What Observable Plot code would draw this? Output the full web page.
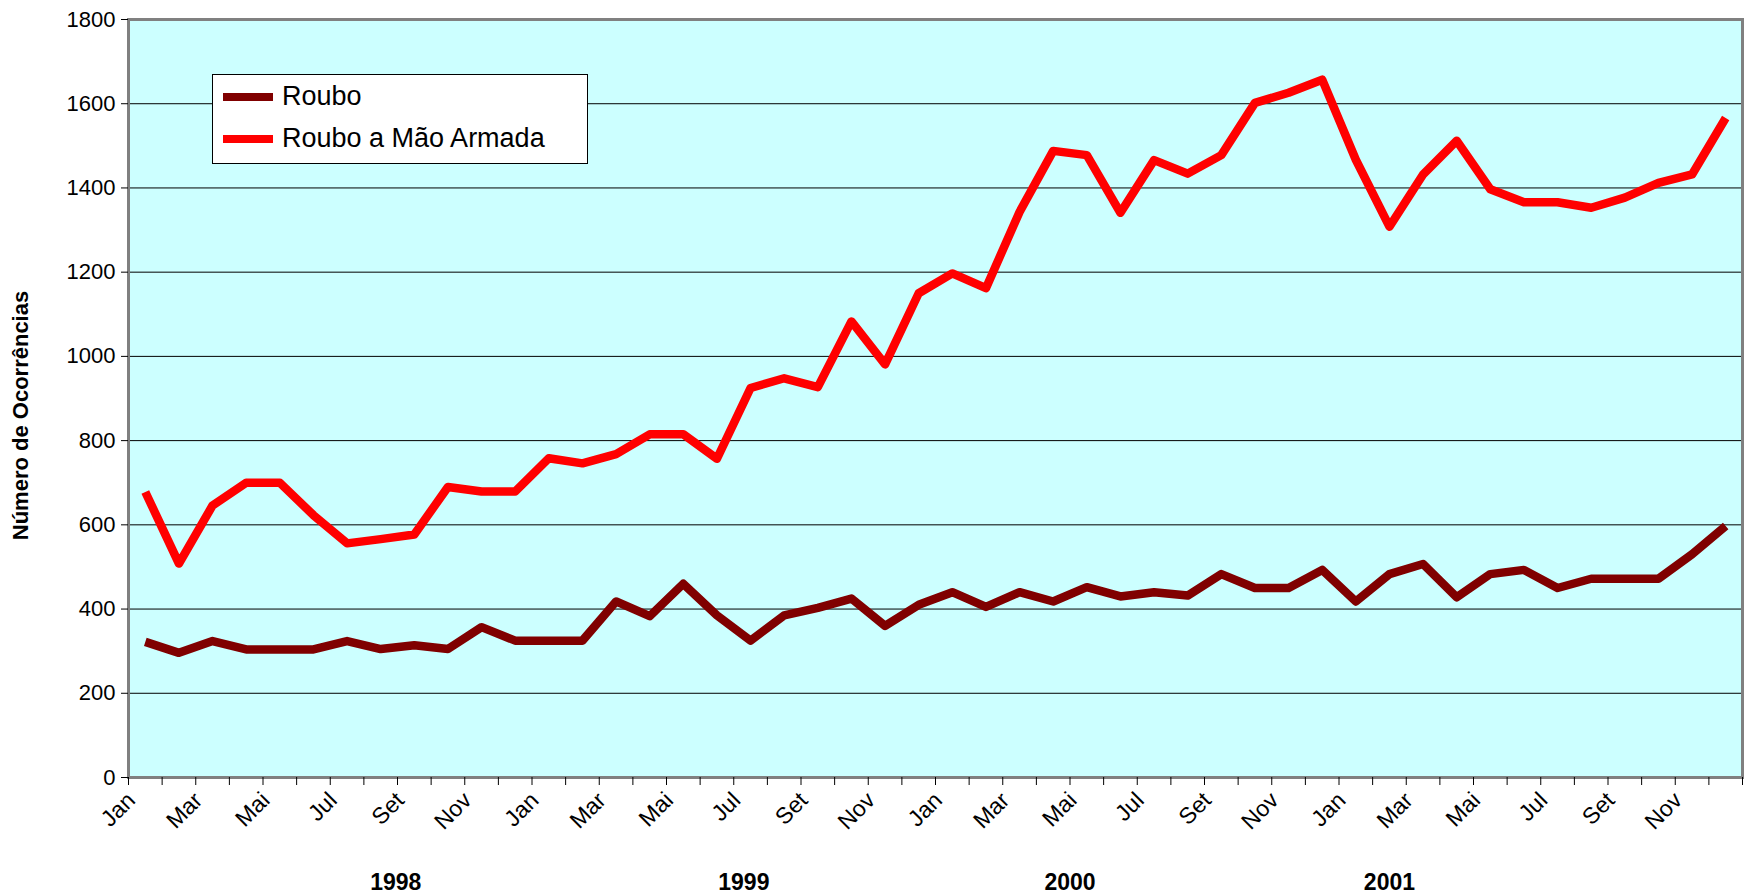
<!DOCTYPE html>
<html>
<head>
<meta charset="utf-8">
<script src="https://cdn.jsdelivr.net/npm/d3@7"></script>
<script src="https://cdn.jsdelivr.net/npm/@observablehq/plot@0.6"></script>
<style>
  html, body { margin: 0; padding: 0; background: #fff; }
  #wrap { position: relative; width: 1748px; height: 893px; font-family: "Liberation Sans", Arial, sans-serif; }
  #legend { position: absolute; left: 212px; top: 74px; width: 374px; height: 88px; border: 1px solid #000; background: #fff; box-sizing: content-box; }
  #legend .item { position: absolute; left: 10px; display: flex; align-items: center; font-size: 27px; color: #000; }
  #legend .sw { display: inline-block; width: 50px; height: 8px; margin-right: 9px; }
  svg text { font-family: "Liberation Sans", Arial, sans-serif; }
</style>
</head>
<body>
<div id="wrap"></div>
<script>
const monthNames = ["Jan","Fev","Mar","Abr","Mai","Jun","Jul","Ago","Set","Out","Nov","Dez"];
const years = [1998, 1999, 2000, 2001];
const seriesNames = ["Roubo", "Roubo a Mão Armada"];
const seriesColors = ["#800000", "#FF0000"];

const roubo = [
  322, 296, 324, 304, 304, 304, 324, 305, 314, 305, 357, 325,
  325, 325, 418, 383, 460, 385, 325, 385, 403, 425, 360, 410,
  440, 405, 440, 418, 452, 430, 440, 432, 483, 450, 450, 493,
  418, 483, 507, 428, 483, 493, 450, 472, 472, 472, 530, 597
];
const armada = [
  678, 508, 646, 700, 700, 623, 556, 566, 577, 690, 679, 679,
  758, 746, 768, 815, 815, 757, 925, 948, 927, 1083, 981, 1150,
  1197, 1162, 1343, 1488, 1478, 1341, 1466, 1434, 1478, 1602, 1626, 1657,
  1467, 1308, 1432, 1512, 1397, 1366, 1366, 1353, 1377, 1412, 1432, 1566
];
// year captions, placed in month-index units
const yearLabelAt = [7.45, 17.8, 27.5, 37.0];

const yTicks = d3.range(0, 1801, 200);
const gridTicks = d3.range(200, 1800, 200);

const data = [];
roubo.forEach((v, i) => data.push({i, value: v, serie: seriesNames[0]}));
armada.forEach((v, i) => data.push({i, value: v, serie: seriesNames[1]}));
const yearData = years.map((y, k) => ({year: String(y), at: yearLabelAt[k]}));
const n = roubo.length;

const chart = Plot.plot({
  width: 1748,
  height: 893,
  marginLeft: 128,
  marginRight: 6,
  marginTop: 19,
  marginBottom: 116,
  style: {fontFamily: "'Liberation Sans', Arial, sans-serif", fontSize: "22px", background: "#fff", overflow: "visible"},
  x: {type: "linear", domain: [-0.5, n - 0.5]},
  y: {domain: [0, 1800]},
  color: {domain: seriesNames, range: seriesColors},
  marks: [
    Plot.frame({fill: "#CCFFFF"}),
    Plot.ruleY(gridTicks, {stroke: "#000", strokeWidth: 1}),
    Plot.line(data, {x: "i", y: "value", z: "serie", stroke: "serie", strokeWidth: 8.5, strokeLinejoin: "round", strokeLinecap: "butt"}),
    Plot.frame({stroke: "#808080", strokeWidth: 3}),
    Plot.axisY({ticks: yTicks, tickSize: 7, tickPadding: 6, fontSize: 22, tickFormat: d => String(d), label: null, stroke: "#000", color: "#000"}),
    Plot.axisX({ticks: d3.range(-0.5, n, 1), tickSize: 8, tickFormat: () => "", label: null, stroke: "#000"}),
    Plot.axisX({ticks: d3.range(0, n, 2), tickSize: 0, tickPadding: 19, tickRotate: -45, dx: -14, tickFormat: i => monthNames[i % 12], fontSize: 23, label: null}),
    Plot.text(["Número de Ocorrências"], {frameAnchor: "left", textAnchor: "middle", rotate: -90, dx: -108, dy: 17, fontWeight: "bold", fontSize: 22, fill: "#000"}),
    Plot.text(yearData, {x: "at", text: "year", frameAnchor: "bottom", dy: 112, fontWeight: "bold", fontSize: 23, fill: "#000"})
  ]
});

const wrap = document.getElementById("wrap");
wrap.appendChild(chart);

const legend = document.createElement("div");
legend.id = "legend";
seriesNames.forEach((name, k) => {
  const item = document.createElement("div");
  item.className = "item";
  item.style.top = (k === 0 ? 6 : 48) + "px";
  const sw = document.createElement("span");
  sw.className = "sw";
  sw.style.background = seriesColors[k];
  const tx = document.createElement("span");
  tx.textContent = name;
  item.appendChild(sw);
  item.appendChild(tx);
  legend.appendChild(item);
});
wrap.appendChild(legend);
</script>
</body>
</html>
